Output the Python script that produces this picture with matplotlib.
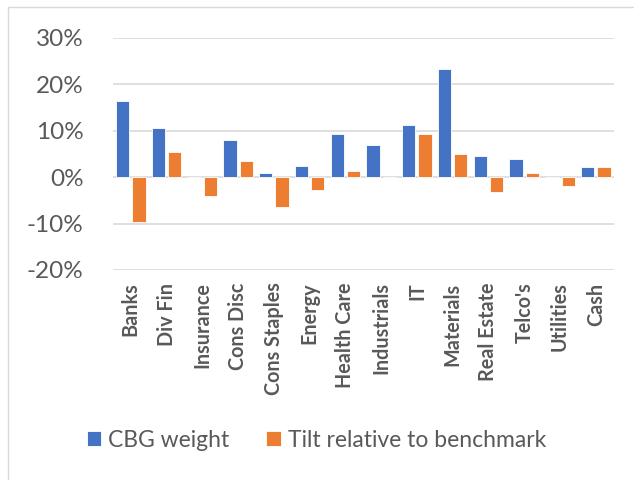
import numpy as np
import matplotlib.pyplot as plt
from matplotlib.patches import Rectangle
from matplotlib.ticker import FuncFormatter

categories = ["Banks", "Div Fin", "Insurance", "Cons Disc", "Cons Staples", "Energy",
              "Health Care", "Industrials", "IT", "Materials", "Real Estate",
              "Telco's", "Utilities", "Cash"]
cbg_weight = [16.5, 10.7, 0.0, 8.0, 1.0, 2.3, 9.3, 6.9, 11.2, 23.3, 4.6, 4.0, 0.0, 2.2]
tilt = [-9.6, 5.5, -4.0, 3.4, -6.4, -2.7, 1.4, 0.0, 9.3, 5.0, -3.1, 1.0, -1.9, 2.2]

plt.rcParams['font.family'] = ['Lato', 'DejaVu Sans']
grey = '#595959'

fig = plt.figure(figsize=(6.34, 4.8), dpi=100)
ax = fig.add_axes([0.178, 0.4375, 0.79, 0.4835])

x = np.arange(len(categories))
w = 0.37
ax.bar(x - 0.228, cbg_weight, w, color='#4472C4', edgecolor='white', linewidth=0.6,
       label='CBG weight', zorder=3)
ax.bar(x + 0.228, tilt, w, color='#ED7D31', edgecolor='white', linewidth=0.6,
       label='Tilt relative to benchmark', zorder=3)

ax.set_xlim(-0.5, len(categories) - 0.5)
ax.set_ylim(-20, 30)
ax.set_yticks(range(-20, 31, 10))
ax.yaxis.set_major_formatter(FuncFormatter(lambda v, p: f"{int(v)}%"))
ax.grid(axis='y', color='#D9D9D9', linewidth=1.2, zorder=0)
for s in ax.spines.values():
    s.set_visible(False)

ax.set_xticks(x)
ax.set_xticklabels(categories, rotation=90, fontsize=14.2, fontweight='bold', color=grey)
ax.tick_params(axis='x', length=0, pad=9)
ax.tick_params(axis='y', length=0, pad=21, labelsize=17.5, labelcolor=grey)

fig.legend(loc='center', bbox_to_anchor=(0.499, 0.083), ncol=2, frameon=False,
           fontsize=16.5, handlelength=0.65, handleheight=0.65, handletextpad=0.3,
           columnspacing=1.6, labelcolor=grey)

# light chart border (left and top visible)
fig.patches.append(Rectangle((8 / 634, -0.1), 1.2, 1.1 - 7 / 480,
                             transform=fig.transFigure, fill=False,
                             edgecolor='#D9D9D9', linewidth=1))

fig.savefig("out.png", dpi=100)
